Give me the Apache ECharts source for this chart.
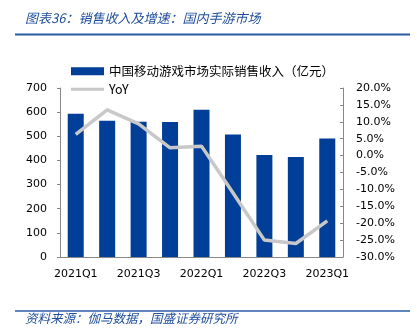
<!DOCTYPE html>
<html><head><meta charset="utf-8">
<script src="https://cdn.jsdelivr.net/npm/echarts@6/dist/echarts.min.js"></script>
<style>html,body{margin:0;padding:0;background:#fff}#c{width:417px;height:328px}</style>
</head><body><div id="c"></div>
<script>
var categories = ['2021Q1','2021Q2','2021Q3','2021Q4','2022Q1','2022Q2','2022Q3','2022Q4','2023Q1'];
var revenue = [593, 564, 560, 559, 610, 507, 422, 414, 491];
var yoy = [6.3, 13.5, 9.4, 2.3, 2.8, -11.0, -25.0, -26.0, -19.3];
var leftTicks = [0, 100, 700];
var rightRange = [-30, 20];
var titleText = '图表36：销售收入及增速：国内手游市场';
var sourceText = '资料来源：伽马数据，国盛证券研究所';
var barName = '中国移动游戏市场实际销售收入（亿元）';
var lineName = 'YoY';

var chart = echarts.init(document.getElementById('c'), null, {renderer:'canvas'});
var fontFam = 'DejaVu Sans, Noto Sans CJK SC, sans-serif';
var legText = {fontSize: 12.5, color:'#000', fontFamily: 'Noto Sans CJK SC, DejaVu Sans, sans-serif'};
chart.setOption({
  animation: false,
  backgroundColor: '#fff',
  textStyle: {fontFamily: fontFam},
  graphic: [
    {type:'text', left: 25, top: 12, style:{text: titleText, fill:'#1F4E9A', font:'italic 13px "Noto Sans CJK SC", sans-serif'}},
    {type:'line', shape:{x1:15, y1:34.5, x2:410, y2:34.5}, style:{stroke:'#2B5BA6', lineWidth:2}},
    {type:'line', shape:{x1:15, y1:311, x2:410, y2:311}, style:{stroke:'#2B5BA6', lineWidth:1.5}},
    {type:'text', left: 25, top: 312, style:{text: sourceText, fill:'#1F4E9A', font:'italic 12.5px "Noto Sans CJK SC", sans-serif'}}
  ],
  legend: [
    {left: 66, top: 60, itemWidth: 33, itemHeight: 8, textStyle: legText,
     data: [{name: barName, icon:'rect'}]},
    {left: 66, top: 78, itemWidth: 33, itemHeight: 3, textStyle: legText,
     data: [{name: lineName, icon:'rect', itemStyle:{color:'#C8C8C8'}}]}
  ],
  grid: {left: 60, right: 74, top: 88, bottom: 71, containLabel: false},
  xAxis: {
    type: 'category', data: categories, boundaryGap: true,
    axisLine: {lineStyle:{color:'#888', width:1}},
    axisTick: {inside: true, length: 4, lineStyle:{color:'#888'}},
    axisLabel: {interval: 1, color:'#000', fontSize: 11, margin: 12, fontFamily: fontFam}
  },
  yAxis: [
    {type:'value', min: leftTicks[0], max: leftTicks[2], interval: leftTicks[1],
     axisLine:{show:true, lineStyle:{color:'#888'}},
     axisTick:{show:true, length:3, lineStyle:{color:'#888'}},
     splitLine:{show:false},
     axisLabel:{color:'#000', fontSize:11, margin:13, fontFamily: fontFam}},
    {type:'value', min: rightRange[0], max: rightRange[1], interval: 5,
     axisLine:{show:true, lineStyle:{color:'#888'}},
     axisTick:{show:true, inside:true, length:3, lineStyle:{color:'#888'}},
     splitLine:{show:false},
     axisLabel:{color:'#000', fontSize:11, margin:13, fontFamily: fontFam,
       formatter: function(v){ return v.toFixed(1) + '%'; }}}
  ],
  series: [
    {name: barName, type:'bar', data: revenue, barWidth: 16, itemStyle:{color:'#003E97'}},
    {name: lineName, type:'line', yAxisIndex: 1, data: yoy, showSymbol:false, symbol:'none',
     lineStyle:{color:'#C8C8C8', width:3.5}, itemStyle:{color:'#C8C8C8'}}
  ]
});
</script></body></html>
